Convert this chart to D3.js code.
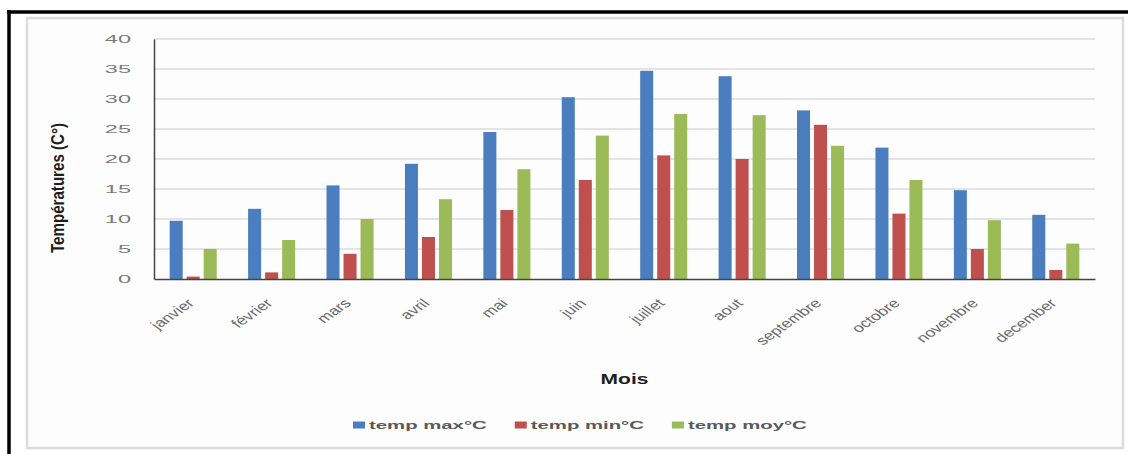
<!DOCTYPE html>
<html>
<head>
<meta charset="utf-8">
<script src="https://cdn.jsdelivr.net/npm/d3@7"></script>
<style>
  html, body { margin: 0; padding: 0; background: #ffffff; }
  svg { display: block; }
</style>
</head>
<body>
<svg id="chart" width="1128" height="454"></svg>
<script>
// Monthly temperatures (°C)
const months = ["janvier", "février", "mars", "avril", "mai", "juin",
                "juillet", "aout", "septembre", "octobre", "novembre", "december"];
const tempMax = [9.7, 11.7, 15.6, 19.2, 24.5, 30.3, 34.7, 33.8, 28.1, 21.9, 14.8, 10.7];
const tempMin = [0.4, 1.1, 4.2, 7.0, 11.5, 16.5, 20.6, 20.0, 25.7, 10.9, 5.0, 1.5];
const tempMoy = [5.0, 6.5, 10.0, 13.3, 18.3, 23.9, 27.5, 27.3, 22.2, 16.5, 9.8, 5.9];
const seriesNames = ["temp max°C", "temp min°C", "temp moy°C"];
const seriesColors = ["#4a7ebf", "#c0504d", "#9bbb59"];
const yTicks = [0, 5, 10, 15, 20, 25, 30, 35, 40];
const xTitle = "Mois";
const yTitle = "Températures (C°)";

const series = [tempMax, tempMin, tempMoy];
const svg = d3.select("#chart");

// Outer frame: heavy black rule on top and left, soft grey chart-area border
svg.append("line").attr("x1", 7).attr("x2", 1128).attr("y1", 12).attr("y2", 12)
  .attr("stroke", "#000").attr("stroke-width", 3.5);
svg.append("line").attr("x1", 9).attr("x2", 9).attr("y1", 10).attr("y2", 454)
  .attr("stroke", "#000").attr("stroke-width", 3.5);
svg.append("rect").attr("x", 27).attr("y", 18).attr("width", 1096).attr("height", 430)
  .attr("fill", "#fdfdfd").attr("stroke", "#dcdcdc").attr("stroke-width", 2.5);

const plot = { left: 154, right: 1095, top: 39, bottom: 279 };

const x = d3.scaleBand()
  .domain(months)
  .range([plot.left, plot.right])
  .paddingInner(0.4)
  .paddingOuter(0.2);

const xs = d3.scaleBand()
  .domain(d3.range(series.length))
  .range([0, x.bandwidth()])
  .paddingInner(0.235)
  .paddingOuter(0);

const y = d3.scaleLinear().domain([0, 40]).range([plot.bottom, plot.top]);

// Horizontal gridlines
svg.append("g")
  .selectAll("line")
  .data(yTicks.filter(d => d > 0))
  .join("line")
  .attr("x1", plot.left).attr("x2", plot.right)
  .attr("y1", d => y(d)).attr("y2", d => y(d))
  .attr("stroke", "#e4e4e4").attr("stroke-width", 2);

// Bars
const groups = svg.append("g")
  .selectAll("g")
  .data(months)
  .join("g")
  .attr("transform", d => `translate(${x(d)},0)`);

groups.selectAll("rect")
  .data((m, i) => series.map((s, k) => ({ k, v: s[i] })))
  .join("rect")
  .attr("x", d => xs(d.k))
  .attr("width", xs.bandwidth())
  .attr("y", d => y(d.v))
  .attr("height", d => y(0) - y(d.v))
  .attr("fill", d => seriesColors[d.k]);

// Y axis with wide tick labels
const yAxis = svg.append("g")
  .attr("transform", `translate(${plot.left},0)`)
  .call(d3.axisLeft(y).tickValues(yTicks).tickSize(0).tickPadding(0));
yAxis.select(".domain").attr("stroke", "#444").attr("stroke-width", 1.5);
yAxis.selectAll(".tick text")
  .attr("x", 0)
  .attr("transform", "translate(-23,0) scale(2.05,1)")
  .attr("font-family", "Liberation Sans, Arial, sans-serif")
  .attr("font-size", 11.5)
  .attr("fill", "#7a7a7a");

// X axis with slanted month labels
const xAxis = svg.append("g")
  .attr("transform", `translate(0,${plot.bottom})`)
  .call(d3.axisBottom(x).tickSize(0).tickPadding(0));
xAxis.select(".domain").attr("stroke", "#444").attr("stroke-width", 1.5);
xAxis.selectAll(".tick text")
  .attr("x", 0).attr("y", 0).attr("dy", 0)
  .attr("text-anchor", "end")
  .attr("transform", "translate(2,25) scale(1.43,1) rotate(-45)")
  .attr("font-family", "Liberation Sans, Arial, sans-serif")
  .attr("font-size", 12.5)
  .attr("fill", "#6a6a6a");

// Axis titles
svg.append("text")
  .attr("transform", `translate(${(plot.left + plot.right) / 2},384) scale(1.5,1)`)
  .attr("text-anchor", "middle")
  .attr("font-family", "Liberation Sans, Arial, sans-serif")
  .attr("font-weight", "bold")
  .attr("font-size", 14)
  .attr("fill", "#1e1e1e")
  .text(xTitle);

svg.append("g")
  .attr("transform", `translate(64,188) scale(1.45,1)`)
  .append("text")
  .attr("transform", "rotate(-90)")
  .attr("text-anchor", "middle")
  .attr("font-family", "Liberation Sans, Arial, sans-serif")
  .attr("font-weight", "bold")
  .attr("font-size", 13)
  .attr("textLength", 130)
  .attr("lengthAdjust", "spacingAndGlyphs")
  .attr("fill", "#1e1e1e")
  .text(yTitle);

// Legend, laid out left to right
const legend = svg.append("g");
let lx = 353;
seriesNames.forEach((name, k) => {
  legend.append("rect")
    .attr("x", lx).attr("y", 421.5).attr("width", 12).attr("height", 7)
    .attr("fill", seriesColors[k]);
  const g = legend.append("g").attr("transform", `translate(${lx + 16},429) scale(1.85,1)`);
  const t = g.append("text")
    .attr("font-family", "Liberation Sans, Arial, sans-serif")
    .attr("font-weight", "bold")
    .attr("font-size", 11)
    .attr("fill", "#595959")
    .text(name);
  const w = t.node().getComputedTextLength() * 1.85;
  lx += 16 + w + 28;
});
</script>
</body>
</html>
